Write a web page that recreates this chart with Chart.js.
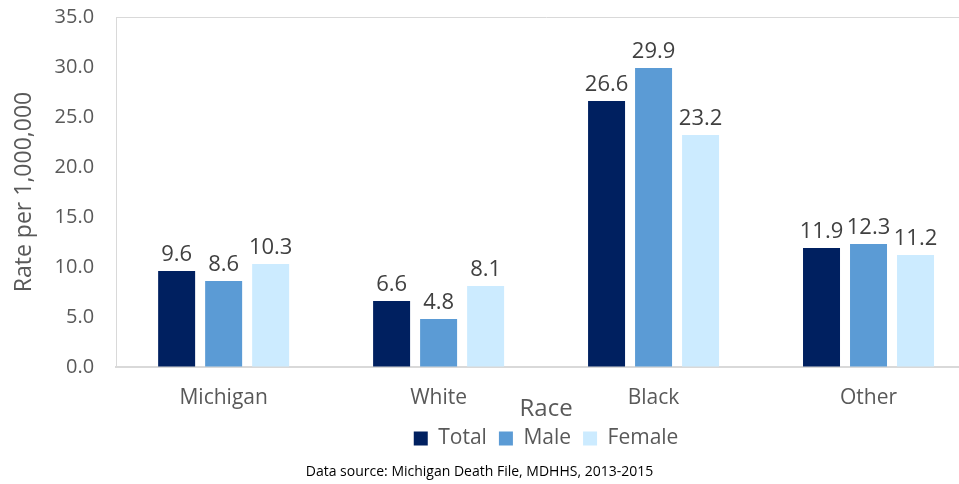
<!DOCTYPE html>
<html>
<head>
<meta charset="utf-8">
<script src="https://cdn.jsdelivr.net/npm/chart.js@4.4.1/dist/chart.umd.min.js"></script>
<style>
  body { margin: 0; overflow: hidden; background: #fff; }
  #wrap { position: absolute; left: 0; top: -17px; width: 990px; height: 503px; }
  #source {
    position: absolute; left: 0; top: 461px; width: 959px;
    text-align: center; font: 14px 'Open Sans', sans-serif; color: #000;
  }
</style>
</head>
<body>
<div id="wrap"><canvas id="raceChart"></canvas></div>
<div id="source">Data source: Michigan Death File, MDHHS, 2013-2015</div>
<script>
const categories = ['Michigan', 'White', 'Black', 'Other'];
const totalRates = [9.6, 6.6, 26.6, 11.9];
const maleRates = [8.6, 4.8, 29.9, 12.3];
const femaleRates = [10.3, 8.1, 23.2, 11.2];

const FONT = "'Open Sans', sans-serif";

// writes each bar's value just above it
const valueLabels = {
    id: 'valueLabels',
    afterDatasetsDraw(chart) {
        const c = chart.ctx;
        c.save();
        c.font = '22px ' + FONT;
        c.fillStyle = '#404040';
        c.textAlign = 'center';
        c.textBaseline = 'bottom';
        chart.data.datasets.forEach((ds, i) => {
            chart.getDatasetMeta(i).data.forEach((bar, j) => {
                c.fillText(ds.data[j].toFixed(1), bar.x, bar.y - 5);
            });
        });
        c.restore();
    }
};

const ctx = document.getElementById('raceChart').getContext('2d');

const raceChart = new Chart(ctx, {
    type: 'bar',
    data: {
        labels: categories,
        datasets: [
            { label: 'Total', data: totalRates, backgroundColor: '#002060' },
            { label: 'Male', data: maleRates, backgroundColor: '#5B9BD5' },
            { label: 'Female', data: femaleRates, backgroundColor: '#CCEBFF' }
        ]
    },
    plugins: [valueLabels],
    options: {
        responsive: true,
        maintainAspectRatio: false,
        animation: false,
        categoryPercentage: 0.656,
        barPercentage: 0.787,
        layout: { padding: { top: 0, right: 14, bottom: 27, left: 11 } },
        plugins: {
            tooltip: { enabled: false },
            legend: {
                position: 'bottom',
                fullSize: false,
                labels: {
                    font: { size: 21, family: FONT },
                    color: '#595959',
                    boxWidth: 14,
                    boxHeight: 14,
                    padding: 12
                }
            }
        },
        scales: {
            x: {
                grid: { display: false },
                border: { color: '#d9d9d9', width: 2 },
                ticks: { font: { size: 21, family: FONT }, color: '#595959', padding: 10 },
                title: {
                    display: true,
                    text: 'Race',
                    font: { size: 24, family: FONT },
                    color: '#595959',
                    padding: { top: -25, bottom: -8 }
                }
            },
            y: {
                min: 0,
                max: 35,
                ticks: {
                    stepSize: 5,
                    font: { size: 20, family: FONT },
                    color: '#595959',
                    padding: 22,
                    callback: v => v.toFixed(1)
                },
                grid: {
                    drawTicks: false,
                    color: c => c.tick.value === 35 ? '#d9d9d9' : 'rgba(0,0,0,0)'
                },
                border: { color: '#d9d9d9', width: 1 },
                title: {
                    display: true,
                    text: 'Rate per 1,000,000',
                    font: { size: 23, family: FONT },
                    color: '#595959',
                    padding: { top: 0, bottom: -6 }
                }
            }
        }
    }
});
</script>
</body>
</html>
